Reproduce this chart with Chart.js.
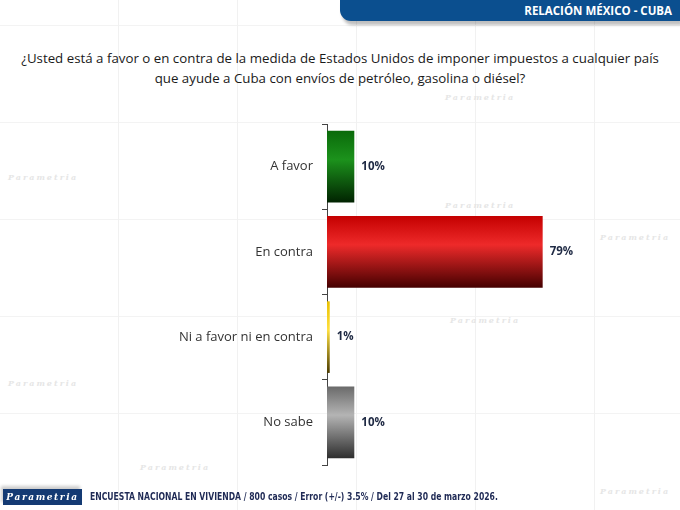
<!DOCTYPE html>
<html>
<head>
<meta charset="utf-8">
<script src="https://cdn.jsdelivr.net/npm/chart.js@4.4.1/dist/chart.umd.min.js"></script>
<style>
  html, body { margin: 0; padding: 0; background: #fff; }
  #wrap { position: relative; width: 680px; height: 510px; overflow: hidden; background-color: #fff;
    background-image:
      repeating-linear-gradient(90deg, transparent 0 118px, #f1f1f1 118px 119px),
      repeating-linear-gradient(0deg, transparent 0 96px, #f3f3f3 96px 97px); }
  .marca { position: absolute; color: #e6e6e6; font: italic bold 8px "DejaVu Serif", serif; letter-spacing: 2px; }
  #header { position: absolute; right: 0; top: 0; width: 340px; height: 21px; background: #0b4f8f;
    border-bottom-left-radius: 11px; box-shadow: 2px 4px 3px rgba(0,0,0,0.25); }
  #header span { position: absolute; right: 8px; top: 3px; color: #fff; font: bold 11.5px "Open Sans", sans-serif; }
  #title { position: absolute; left: 0; top: 48px; width: 680px; text-align: center; color: #1a1a1a;
    font: 13.3px "Open Sans", sans-serif; line-height: 20px; }
  #badge { position: absolute; left: 3px; top: 489px; width: 79px; height: 16px; background: #143a73;
    color: #fff; font: italic bold 9px "DejaVu Serif", serif; letter-spacing: 1.6px; text-align: center; line-height: 16px;
    box-shadow: -2px -3px 3px rgba(0,0,0,0.2); }
  #foot { position: absolute; left: 90px; top: 491px; color: #1f2a55; white-space: nowrap;
    transform: scaleX(0.855); transform-origin: left top;
    font: bold 10px "DejaVu Sans Condensed", sans-serif; }
  canvas { position: absolute; left: 0; top: 0; }
</style>
</head>
<body>
<div id="wrap">
  <div class="marca" style="left:8px;top:172px">Parametria</div>
  <div class="marca" style="left:8px;top:378px">Parametria</div>
  <div class="marca" style="left:445px;top:92px">Parametria</div>
  <div class="marca" style="left:445px;top:200px">Parametria</div>
  <div class="marca" style="left:600px;top:232px">Parametria</div>
  <div class="marca" style="left:450px;top:315px">Parametria</div>
  <div class="marca" style="left:600px;top:486px">Parametria</div>
  <div class="marca" style="left:140px;top:462px">Parametria</div>
  <div id="header"><span>RELACIÓN MÉXICO - CUBA</span></div>
  <div id="title">¿Usted está a favor o en contra de la medida de Estados Unidos de imponer impuestos a cualquier país<br>que ayude a Cuba con envíos de petróleo, gasolina o diésel?</div>
  <canvas id="chart" width="680" height="510"></canvas>
  <div id="badge">Parametria</div>
  <div id="foot">ENCUESTA NACIONAL EN VIVIENDA / 800 casos / Error (+/-) 3.5% / Del 27 al 30 de marzo 2026.</div>
</div>
<script>
// datos
const categorias = ['A favor', 'En contra', 'Ni a favor ni en contra', 'No sabe'];
const valores = [10, 79, 1, 10];

// colores de cada barra: arriba, brillo, abajo
const degradados = [
  ['#0a6a0a', '#1c921c', '#012301'],
  ['#c40000', '#ee2a2a', '#450000'],
  ['#e8c000', '#ffe040', '#4a3a00'],
  ['#6a6a6a', '#b4b4b4', '#2e2e2e']
];

function colorBarra(context) {
  const i = context.dataIndex || 0;
  const c = degradados[i];
  const chart = context.chart;
  const y = chart.scales.y;
  if (!y || !chart.chartArea) return c[0];
  const centro = y.getPixelForValue(i);
  const banda = (y.bottom - y.top) / categorias.length;
  const grosor = banda * 0.84;
  if (!isFinite(centro) || !isFinite(grosor) || grosor <= 0) return c[0];
  const g = chart.ctx.createLinearGradient(0, centro - grosor / 2, 0, centro + grosor / 2);
  g.addColorStop(0, c[0]);
  g.addColorStop(0.4, c[1]);
  g.addColorStop(1, c[2]);
  return g;
}

const etiquetas = {
  id: 'etiquetas',
  afterDatasetsDraw(chart) {
    const ctx = chart.ctx;
    const meta = chart.getDatasetMeta(0);
    ctx.save();
    ctx.font = 'bold 11.5px "Open Sans", sans-serif';
    ctx.fillStyle = '#1f2a44';
    ctx.textBaseline = 'middle';
    meta.data.forEach((bar, i) => {
      ctx.fillText(valores[i] + '%', bar.x + 7, bar.y);
    });
    ctx.restore();
  }
};

new Chart(document.getElementById('chart'), {
  type: 'bar',
  data: {
    labels: categorias,
    datasets: [{
      data: valores,
      backgroundColor: colorBarra,
      borderWidth: 0,
      categoryPercentage: 0.84,
      barPercentage: 1
    }]
  },
  options: {
    indexAxis: 'y',
    responsive: false,
    animation: false,
    layout: { padding: { top: 124, bottom: 45, right: 80, left: 0 } },
    plugins: { legend: { display: false }, tooltip: { enabled: false } },
    scales: {
      x: { display: false, min: 0, max: 100 },
      y: {
        afterFit(scale) { scale.width = 327; },
        border: { display: true, color: '#444', width: 1 },
        grid: { display: true, drawOnChartArea: false, drawTicks: true, tickLength: 5, color: '#444', offset: true },
        ticks: { color: '#333', padding: 9, font: { family: '"Open Sans", sans-serif', size: 13 } }
      }
    }
  },
  plugins: [etiquetas]
});
</script>
</body>
</html>
